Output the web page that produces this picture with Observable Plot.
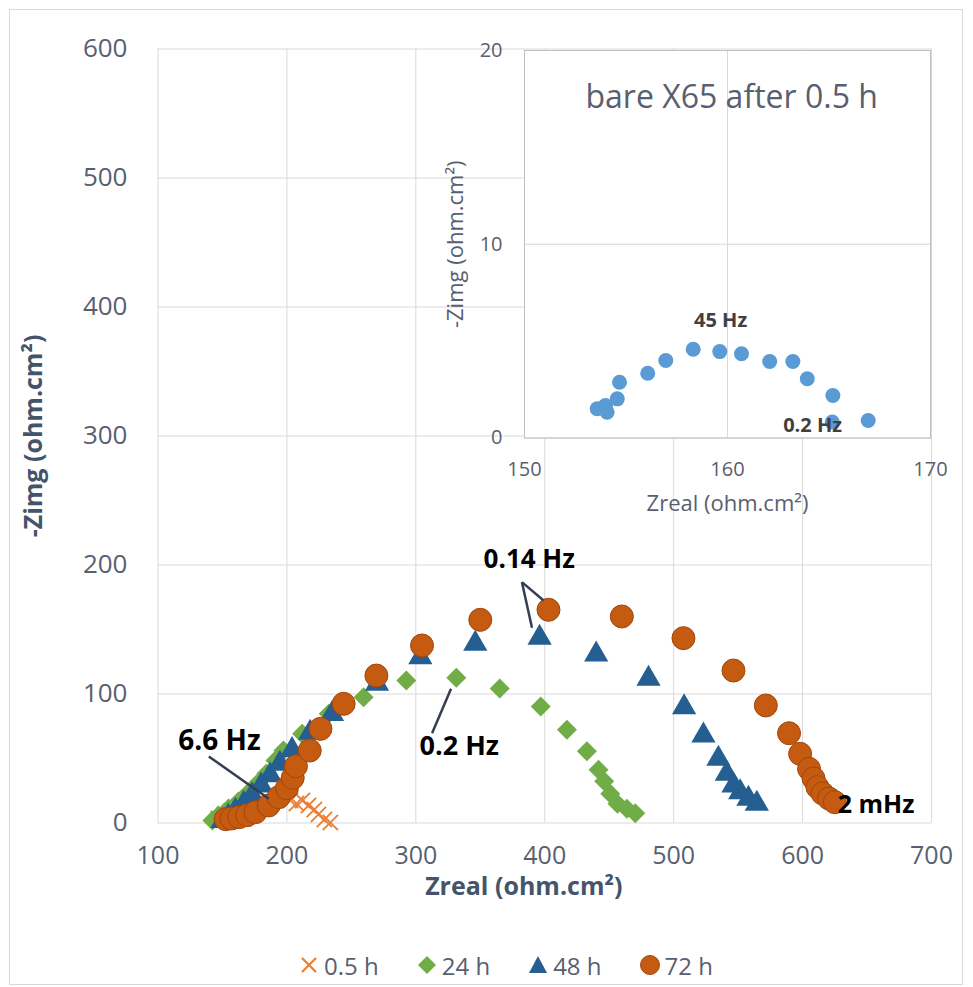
<!DOCTYPE html>
<html><head><meta charset="utf-8">
<script src="https://cdn.jsdelivr.net/npm/d3@7"></script>
<script src="https://cdn.jsdelivr.net/npm/@observablehq/plot@0.6"></script>
<style>
body{margin:0;background:#fff;font-family:"Open Sans",sans-serif;}
#wrap{position:relative;width:973px;height:987px;overflow:hidden;background:#fff;}
#frame{position:absolute;left:9px;top:9px;width:954px;height:976px;border:1px solid #d9d9d9;box-sizing:border-box;}
#main{position:absolute;left:0;top:0;}
#inset{position:absolute;left:420px;top:30px;}
#legend{position:absolute;top:950px;left:0;width:1012px;height:30px;display:flex;justify-content:center;align-items:center;gap:38px;font-size:24px;color:#586070;}
#legend .it{display:flex;align-items:center;gap:5px;}
</style></head>
<body><div id="wrap"><div id="frame"></div><div id="main"></div><div id="inset"></div><div id="legend"></div></div>
<script>
// ---------- data (Zreal, -Zimg) in ohm.cm² ----------
const seriesNames = ["0.5 h", "24 h", "48 h", "72 h"];
const h05 = [[146.9,3.5],[151.6,6.6],[156.2,8.9],[160.9,11.2],[165.5,12.8],[202.7,17.4],[207.4,15.1],[212.0,17.4],[216.7,13.6],[221.3,10.5],[224.4,6.6],[229.1,2.7],[233.7,0.4]];
const h24 = [[142.2,1.9],[146.9,5.8],[154.7,11.2],[162.4,16.7],[170.2,23.6],[177.9,31.4],[184.1,38.4],[191.1,48.4],[197.3,56.2],[211.8,69.1],[232.4,84.7],[259.5,97.5],[292.6,110.5],[331.4,112.6],[365.1,104.3],[396.9,90.3],[417.2,72.2],[432.7,55.7],[441.7,41.2],[446.1,32.4],[450.8,22.6],[456.4,14.9],[463.7,11.0],[470.2,7.6]];
const h48 = [[150.0,1.5],[154.5,5.0],[160.0,9.5],[166.5,15.0],[173.0,21.5],[180.0,29.0],[187.0,37.0],[194.5,46.0],[204.0,56.5],[218.0,70.0],[235.0,84.5],[269.9,107.9],[303.5,128.5],[346.1,138.9],[396.0,143.6],[439.9,130.6],[480.5,111.8],[508.1,89.8],[523.1,67.8],[534.7,49.8],[541.2,38.1],[546.4,29.1],[551.6,23.9],[558.0,18.8],[564.5,14.9]];
const h72 = [[152.5,3.0],[157.0,3.5],[163.0,4.5],[169.0,6.0],[175.6,8.4],[185.9,13.6],[193.6,20.0],[200.0,27.0],[204.5,35.0],[207.0,44.0],[217.7,56.2],[226.0,73.0],[244.0,92.4],[269.4,114.3],[304.8,137.6],[350.0,157.5],[402.9,165.3],[459.8,160.1],[507.6,143.3],[546.4,118.2],[571.5,91.1],[589.5,69.6],[598.1,53.6],[605.0,42.0],[608.5,34.5],[611.5,27.8],[615.5,22.9],[620.5,19.0],[625.0,16.1]];
const xTicks = [100,200,300,400,500,600,700];
const yTicks = [0,100,200,300,400,500,600];
const xTitle = "Zreal (ohm.cm²)";
const yTitle = "-Zimg (ohm.cm²)";
// annotations: label, x, y, font size
const notes = [["0.14 Hz",388.0,204.3,26],["0.2 Hz",333.7,59.3,27],["6.6 Hz",147.7,63.2,28],["2 mHz",657.0,13.6,25]];
// leader lines: x1,y1,x2,y2
const leaders = [[382.3,186.7,390.1,151.3],[382.3,186.7,399.1,172.5],[312.6,69.6,327.3,104.0],[139.4,51.6,185.9,18.8]];

// inset: bare X65 after 0.5 h
const insetTitle = "bare X65 after 0.5 h";
const inset05 = [[153.58,1.51],[154.07,1.33],[153.99,1.68],[154.57,2.02],[154.68,2.88],[156.07,3.34],[156.96,4.00],[158.31,4.58],[159.62,4.46],[160.69,4.35],[162.08,3.95],[163.22,3.95],[163.93,3.06],[165.19,2.19],[165.16,0.82],[166.93,0.90]];
const insetXTicks = [150,160,170];
const insetYTicks = [0,10,20];
const insetNotes = [["45 Hz",159.66,6.07],["0.2 Hz",164.19,0.65]];

const colors = {"0.5 h":"#ED7D31","24 h":"#70AD47","48 h":"#255E91","72 h":"#C55A11"};
const toObj = a => a.map(([x,y]) => ({x,y}));

const tickFill = "#586070", titleFill = "#44546A";

const main = Plot.plot({
  width: 973, height: 930,
  marginLeft: 157.5, marginRight: 42, marginTop: 48.5, marginBottom: 107.5,
  x: {domain: [100,700]},
  y: {domain: [0,600]},
  style: {fontFamily: "Open Sans", background: "transparent"},
  marks: [
    Plot.gridX(xTicks, {stroke: "#d9d9d9", strokeOpacity: 1, strokeWidth: 1}),
    Plot.gridY(yTicks, {stroke: "#d9d9d9", strokeOpacity: 1, strokeWidth: 1}),
    Plot.axisX(xTicks, {tickSize: 0, tickPadding: 23, fontSize: 25, fill: tickFill, label: null}),
    Plot.axisY(yTicks, {tickSize: 0, tickPadding: 30.5, fontSize: 26, fill: tickFill, label: null}),
    Plot.text([xTitle], {frameAnchor: "bottom", dx: -21, dy: 64, lineAnchor: "middle", fontSize: 25, fontWeight: "bold", fill: titleFill}),
    Plot.text([yTitle], {frameAnchor: "left", dx: -124.5, rotate: -90, lineAnchor: "middle", textAnchor: "middle", fontSize: 25, fontWeight: "bold", fill: titleFill}),
    Plot.dot(toObj(h05), {x: "x", y: "y", symbol: "times", r: 7, stroke: colors["0.5 h"], strokeWidth: 1.8}),
    Plot.dot(toObj(h24), {x: "x", y: "y", symbol: "diamond2", r: 9, fill: colors["24 h"], stroke: "none"}),
    Plot.dot(toObj(h48), {x: "x", y: "y", symbol: "triangle", r: 9, fill: colors["48 h"], stroke: "none"}),
    Plot.dot(toObj(h72), {x: "x", y: "y", symbol: "circle", r: 11.5, fill: colors["72 h"], stroke: "#A0470D", strokeWidth: 1}),
    Plot.link(leaders, {x1: d => d[0], y1: d => d[1], x2: d => d[2], y2: d => d[3], stroke: "#333F50", strokeWidth: 2.5}),
    Plot.text(notes, {x: d => d[1], y: d => d[2], text: d => d[0], fontSize: d => d[3], fontWeight: "bold", fill: "#000", lineAnchor: "middle"})
  ]
});
document.getElementById("main").appendChild(main);

const inset = Plot.plot({
  width: 530, height: 490,
  marginLeft: 104, marginRight: 20, marginTop: 20, marginBottom: 82.5,
  x: {domain: [150,170]},
  y: {domain: [0,20]},
  style: {fontFamily: "Open Sans", background: "transparent"},
  marks: [
    Plot.frame({fill: "white", stroke: "none"}),
    Plot.gridX(insetXTicks, {stroke: "#d9d9d9", strokeOpacity: 1}),
    Plot.gridY(insetYTicks, {stroke: "#d9d9d9", strokeOpacity: 1}),
    Plot.frame({stroke: "#bfbfbf", fill: "none"}),
    Plot.axisX(insetXTicks, {tickSize: 0, tickPadding: 24, fontSize: 20, fill: tickFill, label: null}),
    Plot.axisY(insetYTicks, {tickSize: 0, tickPadding: 22, fontSize: 20, fill: tickFill, label: null}),
    Plot.text([xTitle], {frameAnchor: "bottom", dy: 65.5, lineAnchor: "middle", fontSize: 22, fill: tickFill}),
    Plot.text([yTitle], {frameAnchor: "left", dx: -69, rotate: -90, lineAnchor: "middle", textAnchor: "middle", fontSize: 22, fill: tickFill}),
    Plot.text([insetTitle], {frameAnchor: "top-left", dx: 61, dy: 47, textAnchor: "start", lineAnchor: "middle", fontSize: 32, fill: tickFill}),
    Plot.dot(toObj(inset05), {x: "x", y: "y", r: 7.5, fill: "#5B9BD5", stroke: "none"}),
    Plot.text(insetNotes, {x: d => d[1], y: d => d[2], text: d => d[0], fontSize: 20, fontWeight: "bold", fill: "#404040", lineAnchor: "middle"})
  ]
});
document.getElementById("inset").appendChild(inset);

// legend
const sym = {
  "0.5 h": `<path d="M3,3L17,17M17,3L3,17" stroke="${colors["0.5 h"]}" stroke-width="2.2"/>`,
  "24 h": `<path d="M10,1L19,10L10,19L1,10Z" fill="${colors["24 h"]}"/>`,
  "48 h": `<path d="M10,1L19,18L1,18Z" fill="${colors["48 h"]}"/>`,
  "72 h": `<circle cx="10" cy="10" r="9.5" fill="${colors["72 h"]}" stroke="#A0470D"/>`
};
const leg = document.getElementById("legend");
seriesNames.forEach(n => {
  const it = document.createElement("div");
  it.className = "it";
  it.innerHTML = `<svg width="20" height="20">${sym[n]}</svg><span>${n}</span>`;
  leg.appendChild(it);
});
</script></body></html>
